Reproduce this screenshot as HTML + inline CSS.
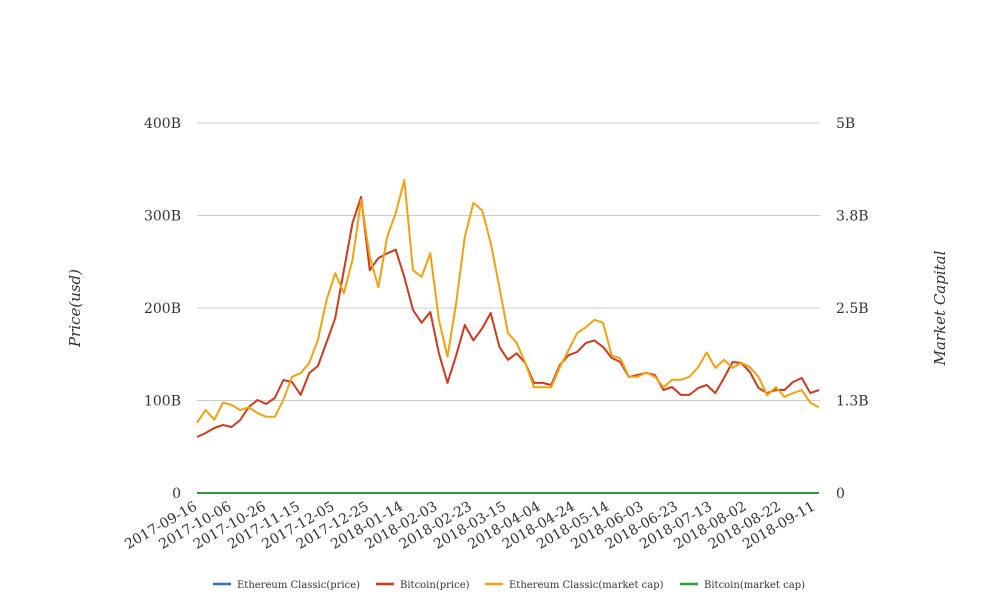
<!DOCTYPE html>
<html><head><meta charset="utf-8"><style>
html,body{margin:0;padding:0;background:#fff;}
svg{display:block;font-family:"DejaVu Serif","Liberation Serif",serif;}
</style></head><body>
<svg id="chart" width="1008" height="616" viewBox="0 0 1008 616" xmlns="http://www.w3.org/2000/svg">
<g id="grid"></g>
<g id="yleft"></g>
<g id="yright"></g>
<g id="xaxis"></g>
<g id="series"></g>
<text x="0" y="0" transform="translate(80,308) rotate(-90)" text-anchor="middle" font-size="15" font-style="italic" fill="#333">Price(usd)</text>
<text x="0" y="0" transform="translate(945,308) rotate(-90)" text-anchor="middle" font-size="15" font-style="italic" fill="#333">Market Capital</text>
<g id="legend"></g>
</svg>
<script>
const tickLabels = ["2017-09-16","2017-10-06","2017-10-26","2017-11-15","2017-12-05","2017-12-25","2018-01-14","2018-02-03","2018-02-23","2018-03-15","2018-04-04","2018-04-24","2018-05-14","2018-06-03","2018-06-23","2018-07-13","2018-08-02","2018-08-22","2018-09-11"];
const leftTicks = ["0","100B","200B","300B","400B"];
const rightTicks = ["0","1.3B","2.5B","3.8B","5B"];
const btcPrice = [60.5,64.9,70.3,73.5,71.4,78.9,93,100.5,96.2,102.7,122.2,120,106,129.7,137.3,163,189,241,292,320,241,254,259,263,233.5,198,184,195.7,151,119,149,181.6,165,178,194.6,158,144,151,140.5,119,119,116.8,138.4,149,152.4,162,165,158,146,141.6,125.4,127.6,129.7,127.6,111.4,114.6,106,106,113.5,116.8,108,124.3,141.6,140.5,130.8,113.5,108,111.4,111.4,120,124.3,108,111.4];
const etcCap = [0.95,1.12,0.99,1.22,1.19,1.12,1.16,1.08,1.03,1.03,1.26,1.57,1.62,1.76,2.07,2.61,2.97,2.70,3.15,3.96,3.19,2.78,3.46,3.78,4.23,3.01,2.92,3.24,2.34,1.84,2.57,3.46,3.92,3.82,3.38,2.78,2.16,2.03,1.76,1.43,1.43,1.43,1.70,1.93,2.16,2.24,2.34,2.30,1.86,1.82,1.57,1.57,1.63,1.57,1.43,1.53,1.53,1.57,1.70,1.90,1.69,1.80,1.69,1.76,1.70,1.57,1.32,1.43,1.30,1.35,1.39,1.22,1.16];
const etcPrice = btcPrice.map(()=>0);
const btcCap = btcPrice.map(()=>0);
const stepDays = 5, totalDays = 360;

const NS="http://www.w3.org/2000/svg";
const X0=197,X1=819,Y0=493,Y1=123,LX1=815;
const xDay=d=>X0+(X1-X0)*d/totalDays;
const xLab=d=>X0+(LX1-X0)*d/totalDays;
const yL=v=>Y0-(Y0-Y1)*v/400;
const yR=v=>Y0-(Y0-Y1)*v/5;
function mk(tag,attrs,parent){const e=document.createElementNS(NS,tag);for(const k in attrs)e.setAttribute(k,attrs[k]);parent.appendChild(e);return e;}
const grid=document.getElementById('grid'),yl=document.getElementById('yleft'),yr=document.getElementById('yright'),xa=document.getElementById('xaxis'),ser=document.getElementById('series'),lg=document.getElementById('legend');
leftTicks.forEach((t,i)=>{
  const y=Y0-(Y0-Y1)*i/(leftTicks.length-1);
  if(i>0){const l=mk('line',{x1:X0,x2:820,y1:y,y2:y,stroke:'#ccc','stroke-width':1},grid);
  
  }
  const a=mk('text',{x:181,y:y+5,'text-anchor':'end','font-size':14,fill:'#333'},yl);a.textContent=t;
  
  
  const b=mk('text',{x:836,y:y+5,'font-size':14,fill:'#333'},yr);b.textContent=rightTicks[i];
  
  
});
tickLabels.forEach((t,i)=>{
  const x=xLab(i*20);
  const e=mk('text',{x:0,y:0,transform:`translate(${x+1},${Y0+16}) rotate(-30)`,'text-anchor':'end','font-size':14,fill:'#333'},xa);e.textContent=t;
  
  
});
function line(vals,sc,color,name){
  const d=vals.map((v,i)=>(i?'L':'M')+xDay(i*stepDays).toFixed(1)+','+sc(v).toFixed(1)).join('');
  const p=mk('path',{d:d,fill:'none',stroke:color,'stroke-width':2,'stroke-linejoin':'round'},ser);
  
  
}
line(etcPrice,yL,'#3a6fb0','etc-price-line');
line(btcPrice,yL,'#d03a1a','btc-price-line');
line(etcCap,yR,'#f2a20c','etc-market-cap-line');
line(btcCap,yL,'#2a9a3a','btc-market-cap-line');
const legendItems=[["Ethereum Classic(price)","#3a6fb0",213],["Bitcoin(price)","#d03a1a",376],["Ethereum Classic(market cap)","#f2a20c",485],["Bitcoin(market cap)","#2a9a3a",680]];
legendItems.forEach(([t,c,x])=>{
  const g=mk('g',{},lg);
  
  
  mk('line',{x1:x,x2:x+18,y1:584,y2:584,stroke:c,'stroke-width':2.5},g);
  const e=mk('text',{x:x+24,y:588,'font-size':10,fill:'#333'},g);e.textContent=t;
});
</script>
</body></html>
